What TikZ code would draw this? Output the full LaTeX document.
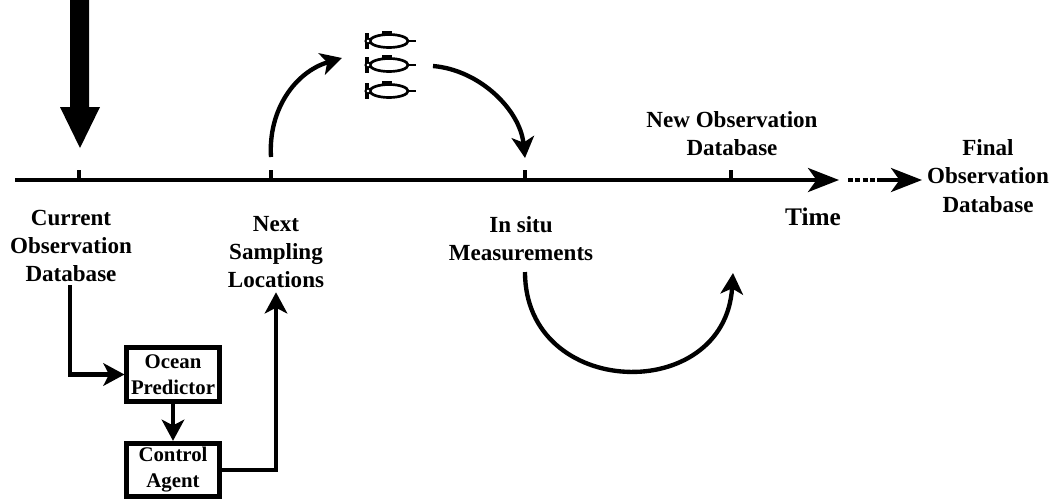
\documentclass[tikz,border=0pt]{standalone}
\usepackage{fontspec}
\setmainfont{Liberation Serif}
\usetikzlibrary{arrows.meta}
\tikzset{
    >={Stealth[length=15pt,width=16pt,inset=4pt]},
    lbl/.style={font=\fontsize{16.4}{20}\selectfont\bfseries,align=center,inner sep=0pt},
    boxnode/.style={font=\fontsize{14.8}{18.5}\selectfont\bfseries,align=center,inner sep=0pt,draw,line width=3.5pt,minimum width=65.5pt,minimum height=38pt},
    thickline/.style={line width=3.1pt},
    longhead/.style={-{Stealth[length=22pt,width=17pt,inset=6pt]}},
}
\begin{document}
\begin{tikzpicture}[x=0.025cm,y=-0.025cm]
        \useasboundingbox (0,0) rectangle (1056,502);
        % time axis
        \coordinate (axisstart) at (15,180);
        \coordinate (axisend) at (839,180);
        \coordinate (dotstart) at (848,180);
        \coordinate (dotend) at (880,180);
        \coordinate (finalend) at (922,180);
        \draw[thickline,longhead] (axisstart)--(axisend);
        \draw[line width=3pt,dash pattern=on 3.5pt off 1.7pt] (dotstart)--(dotend);
        \draw[thickline,longhead] (dotend)--(finalend);
        \foreach \x in {79,271,525,731} {
            \draw[line width=2.4pt] (\x,170)--(\x,180);
        }
        % big arrow
        \fill (70,0)--(89,0)--(89,107)--(100,107)--(80,148)--(60,107)--(70,107)--cycle;
        % labels
        \node[lbl] (cur) at (71,246) {Current\\Observation\\Database};
        \node[lbl] (next) at (276,252) {Next\\Sampling\\Locations};
        \node[lbl] (situ) at (521,239) {In situ\\Measurements};
        \node[lbl] (new) at (732,134) {New Observation\\Database};
        \node[lbl] (final) at (988,176) {Final\\Observation\\Database};
        \node[lbl,font=\fontsize{18}{20}\selectfont\bfseries] (time) at (813,217) {Time};
        % boxes
        \node[boxnode] (ocean) at (173,374.5) {Ocean\\Predictor};
        \node[boxnode] (agent) at (173,470) {Control\\Agent};
        \draw[thickline,->] (cur.south)++(-1,3) |- (ocean.west);
        \draw[thickline,->] (ocean.south)--(agent.north);
        \draw[thickline,->] (agent.east) -| ([yshift=-3pt]next.south);
        % vehicles
        \foreach \y in {41,65,91} {
            \draw[line width=1.9pt] (389,\y) ellipse (19 and 6.5);
            \draw[line width=1.9pt] (408,\y)--(416,\y);
            \fill (382,\y-10) rectangle (392,\y-5);
            \draw[line width=3.4pt] (367,\y-8)--(367,\y+8);
            \draw[line width=1.4pt,fill=white] (368,\y) circle (2.5);
        }
        % curved arrows
        \coordinate (upstart) at (271,157);
        \coordinate (upend) at (342,58);
        \coordinate (downstart) at (433,66);
        \coordinate (downend) at (525,158);
        \coordinate (loopstart) at (525,272);
        \coordinate (loopend) at (733,273);
        \draw[thickline,->] (upstart) .. controls (268,110) and (295,72) .. (upend);
        \draw[thickline,->] (downstart) .. controls (480,70) and (520,110) .. (downend);
        \draw[thickline,->] (loopstart) .. controls (525,400) and (725,405) .. (loopend);
    \end{tikzpicture}
\end{document}
